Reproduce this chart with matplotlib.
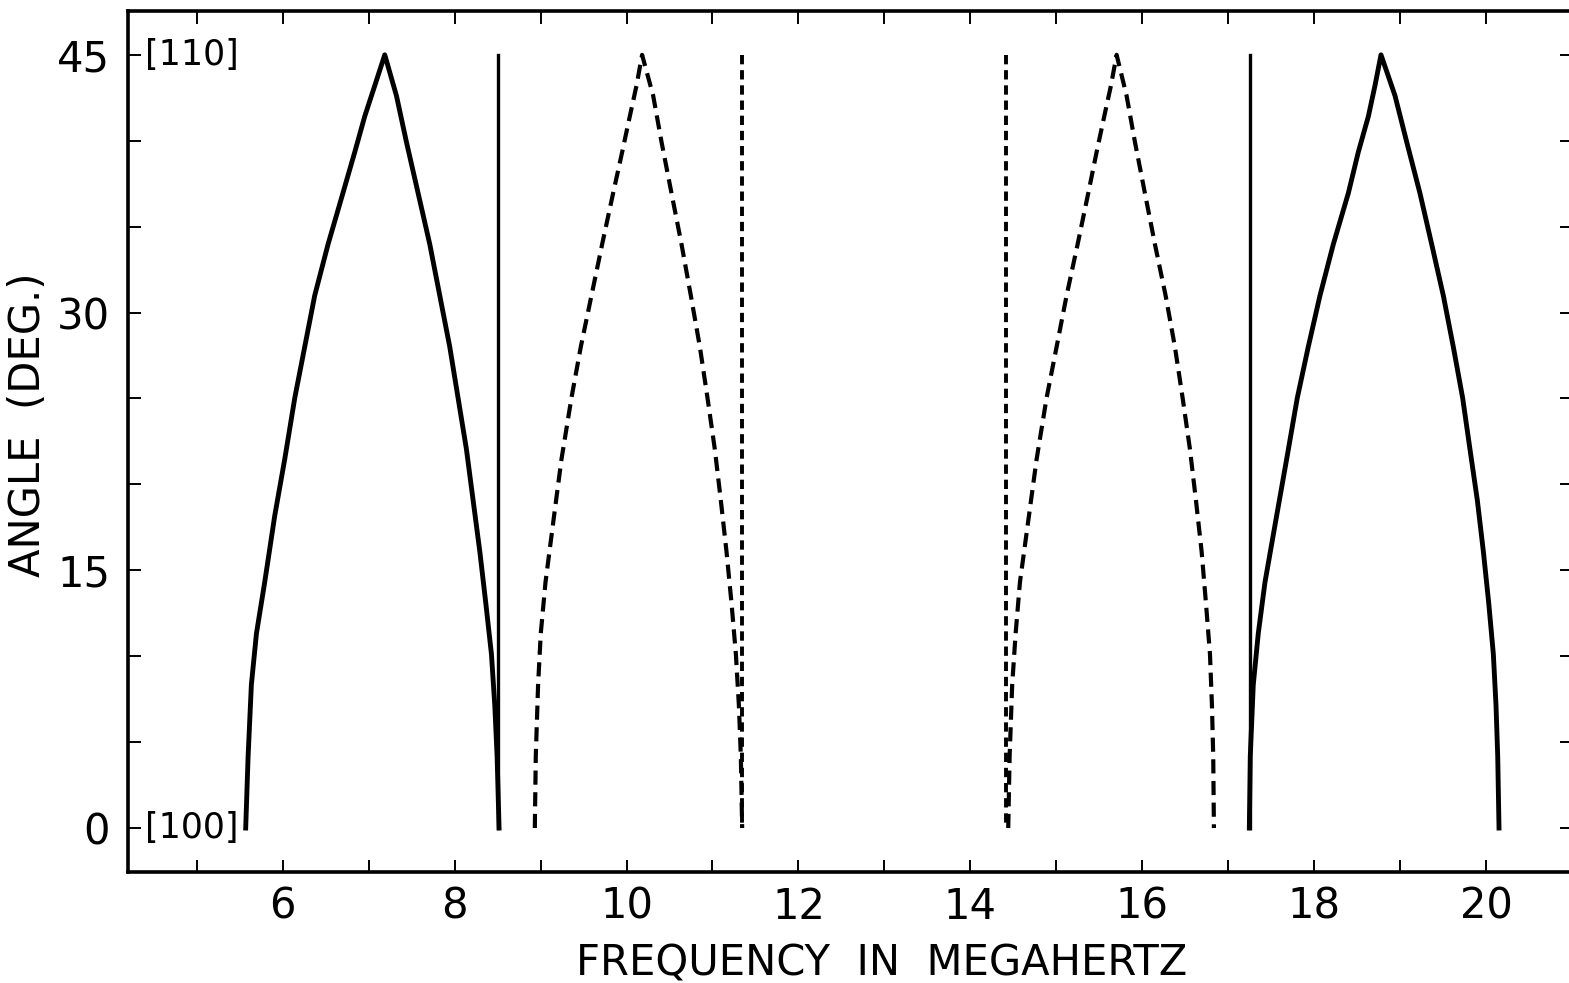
import matplotlib
matplotlib.use("Agg")
import matplotlib.pyplot as plt
from matplotlib.ticker import MultipleLocator

rise_ang = [0, 4.17, 8.34, 11.32, 14.30, 18.18, 21.46, 25.03, 28.01, 30.99,
            33.97, 36.95, 39.34, 41.42, 43.21, 45]
fall_ang = [42.62, 39.93, 36.95, 33.97, 30.99, 28.01, 25.03, 22.05, 19.07,
            16.09, 13.11, 10.13, 7.15, 4.17, 0]
ang = rise_ang + fall_ang

# frequencies (MHz) of each curve at those angles
f1 = [5.569, 5.597, 5.635, 5.694, 5.790, 5.907, 6.023, 6.140, 6.256, 6.372,
      6.527, 6.700, 6.838, 6.954, 7.071, 7.187,
      7.323, 7.439, 7.575, 7.711, 7.827, 7.943, 8.040, 8.137, 8.215,
      8.293, 8.362, 8.428, 8.467, 8.494, 8.517]
f2 = [8.933, 8.944, 8.971, 9.002, 9.057, 9.157, 9.243, 9.359, 9.468, 9.592,
      9.716, 9.844, 9.949, 10.038, 10.116, 10.181,
      10.310, 10.407, 10.523, 10.640, 10.748, 10.853, 10.942, 11.027, 11.097,
      11.163, 11.221, 11.272, 11.307, 11.330, 11.345]
f3 = [14.441, 14.457, 14.487, 14.527, 14.577, 14.682, 14.771, 14.887, 15.004,
      15.120, 15.248, 15.372, 15.469, 15.558, 15.636, 15.702,
      15.818, 15.915, 16.031, 16.148, 16.272, 16.380, 16.470, 16.555, 16.625,
      16.691, 16.741, 16.788, 16.811, 16.826, 16.834]
f4 = [17.246, 17.257, 17.292, 17.350, 17.428, 17.564, 17.680, 17.804, 17.932,
      18.068, 18.223, 18.398, 18.514, 18.631, 18.708, 18.778,
      18.941, 19.077, 19.231, 19.368, 19.503, 19.619, 19.728, 19.813, 19.899,
      19.969, 20.031, 20.085, 20.116, 20.136, 20.151]

solid_verticals = [8.50, 17.25]
dashed_verticals = [11.34, 14.42]

y_ticks = [0, 15, 30, 45]
x_ticks = [6, 8, 10, 12, 14, 16, 18, 20]

plt.rcParams["font.family"] = "DejaVu Sans"

fig = plt.figure(figsize=(15.69, 9.83), dpi=100)
ax = fig.add_axes([0.0816, 0.1129, 0.9203, 0.8759])

for f in (f1, f4):
    ax.plot(f, ang, color="black", lw=3.5, solid_joinstyle="round")
for f in (f2, f3):
    ax.plot(f, ang, color="black", lw=3.0, linestyle=(0, (3.4, 1.8)))
for v in solid_verticals:
    ax.plot([v, v], [0, 45], color="black", lw=2.4)
for v in dashed_verticals:
    ax.plot([v, v], [45, 0], color="black", lw=2.8, linestyle=(0, (2.4, 1.5)))

ax.set_xlim(4.2, 21.0)
ax.set_ylim(-2.56, 47.55)

ax.set_xticks(x_ticks)
ax.set_xticklabels([str(t) for t in x_ticks])
ax.xaxis.set_minor_locator(MultipleLocator(1))
ax.set_yticks(y_ticks)
ax.set_yticklabels([str(t) for t in y_ticks])
ax.yaxis.set_minor_locator(MultipleLocator(5))

ax.tick_params(which="both", direction="in", top=True, right=True,
               length=9, width=1.4)
ax.tick_params(axis="both", which="major", labelsize=30)
ax.tick_params(axis="x", pad=10)
ax.tick_params(axis="y", pad=13)

for s in ax.spines.values():
    s.set_linewidth(2.6)

ax.text(4.40, 45, "[110]", fontsize=25, va="center", ha="left")
ax.text(4.40, 0, "[100]", fontsize=25, va="center", ha="left")

ax.set_xlabel("FREQUENCY  IN  MEGAHERTZ", fontsize=30)
ax.set_ylabel("ANGLE  (DEG.)", fontsize=30)
ax.xaxis.set_label_coords(0.522, -0.082)
ax.yaxis.set_label_coords(-0.055, 0.519)

fig.savefig("out.png", dpi=100, facecolor="white")
